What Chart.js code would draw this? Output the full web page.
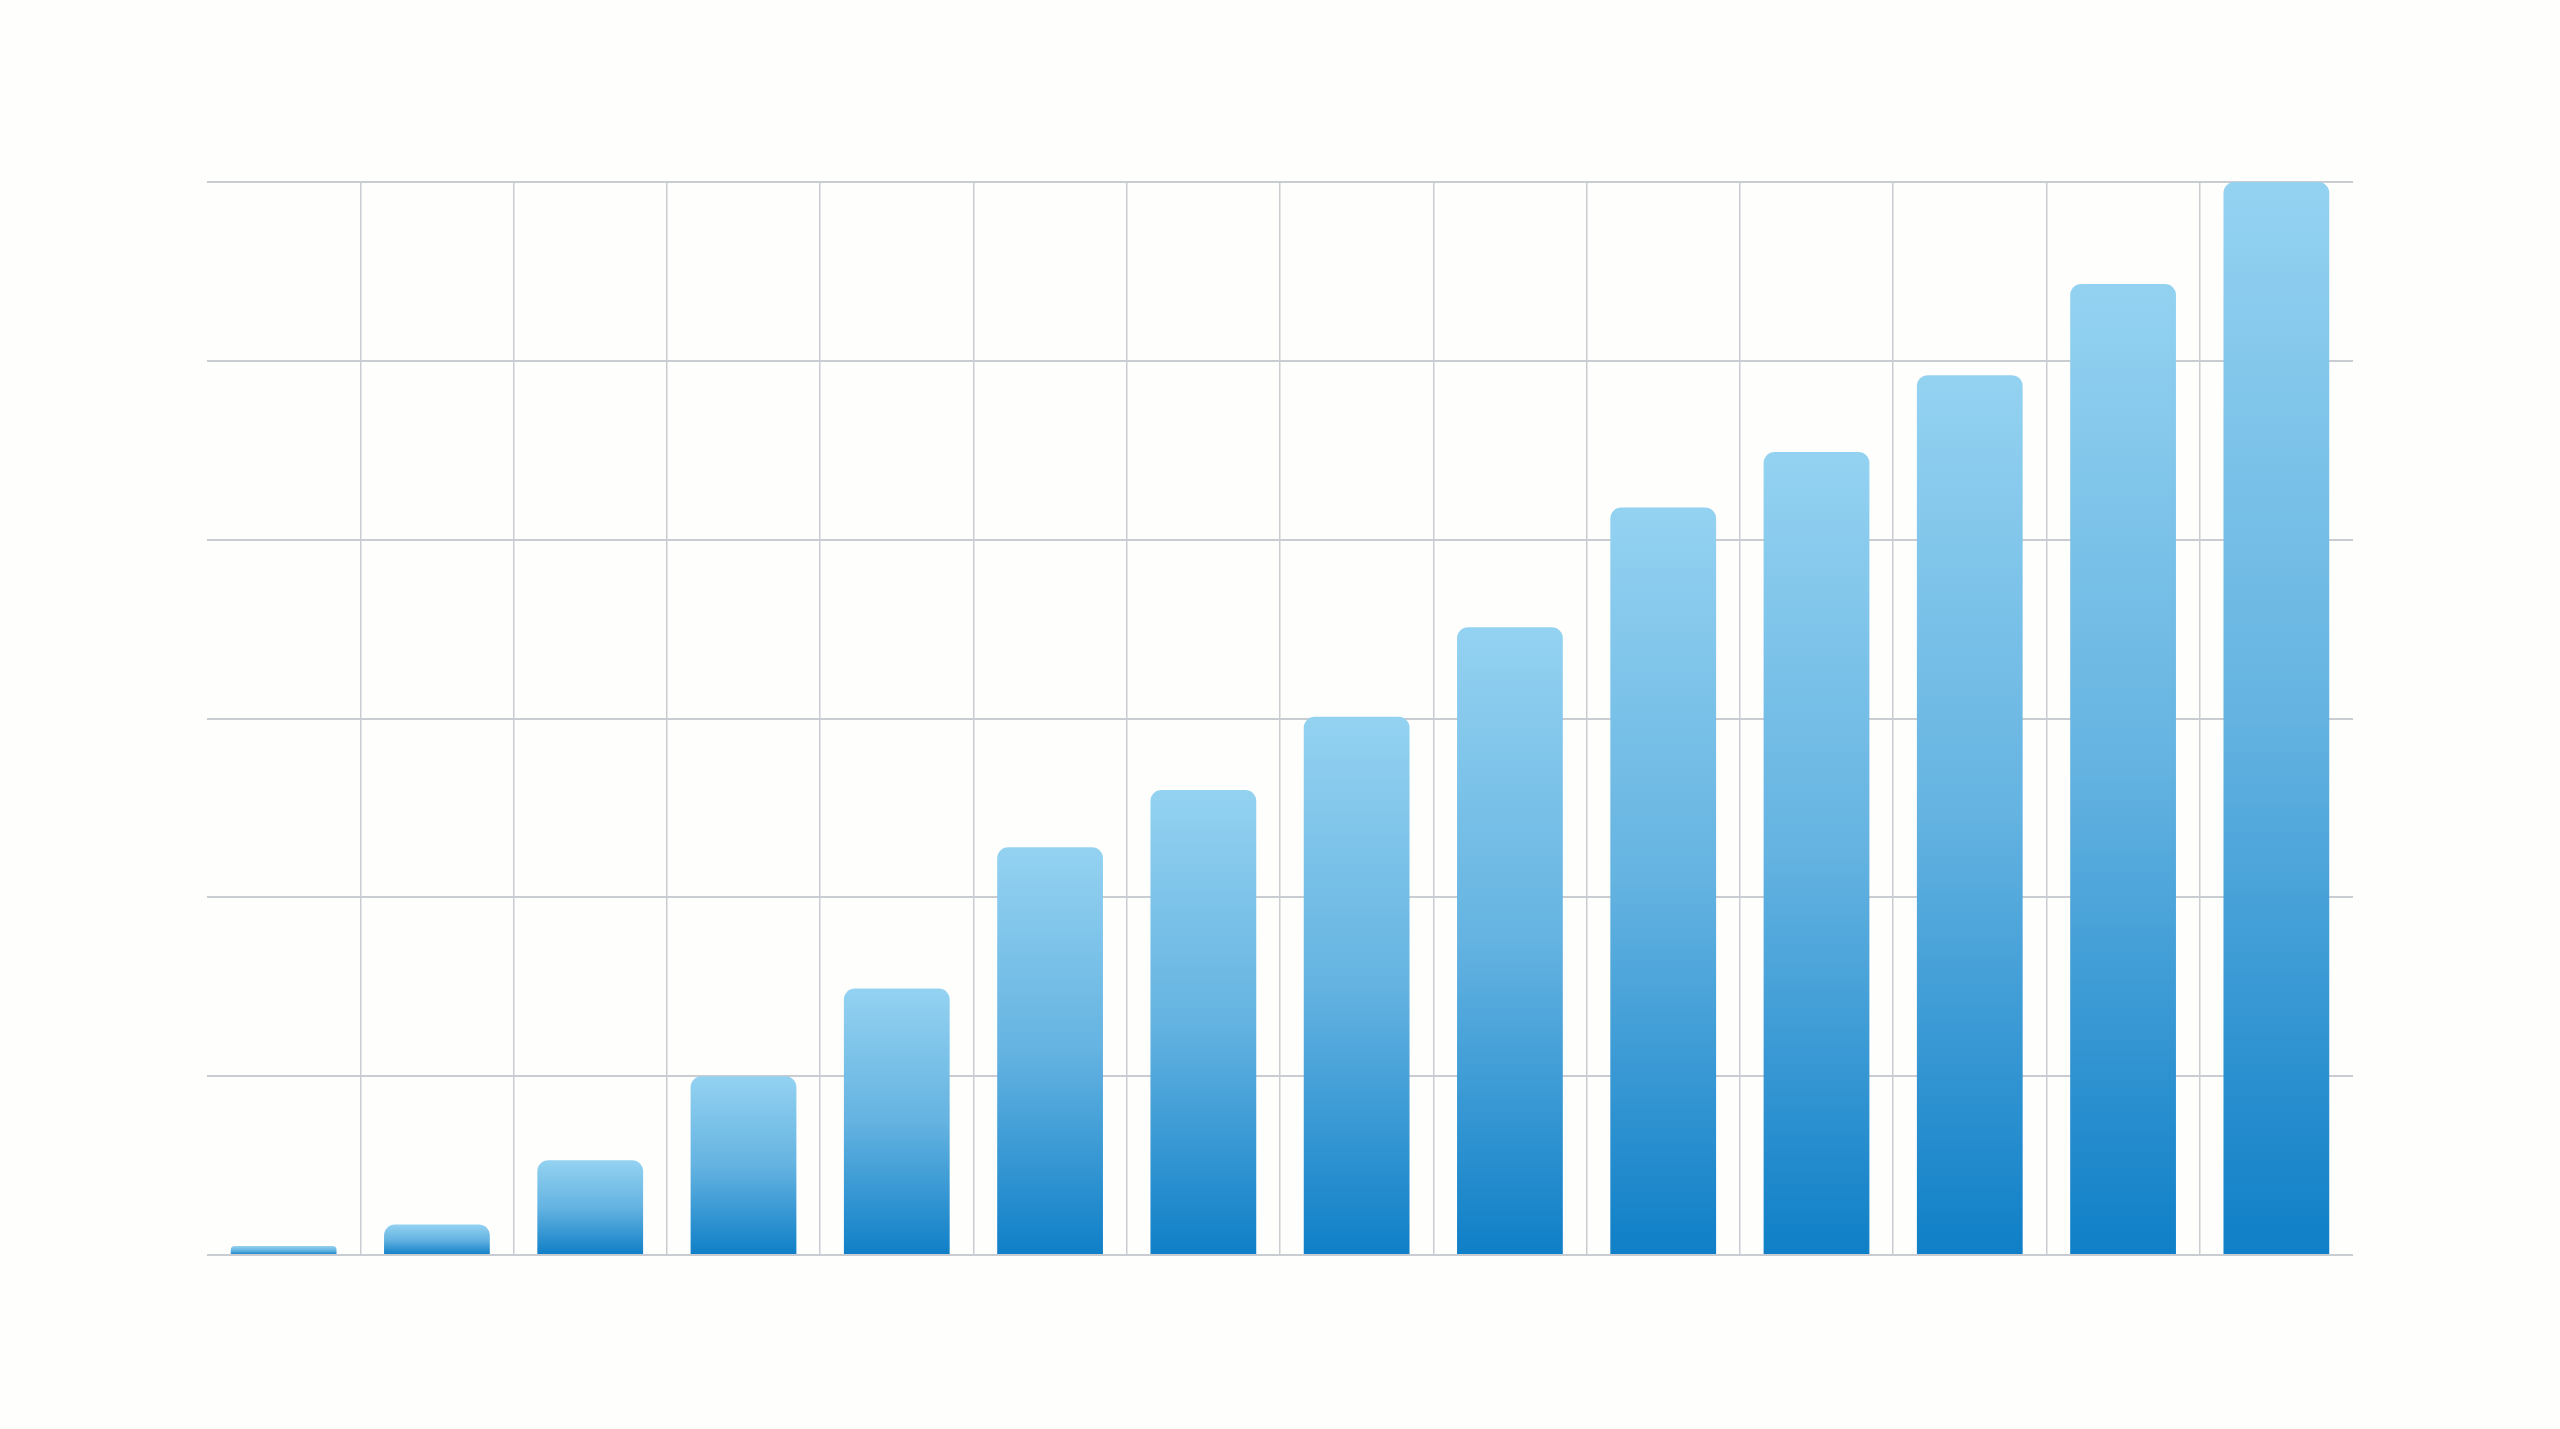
<!DOCTYPE html>
<html>
<head>
<meta charset="utf-8">
<script src="https://cdn.jsdelivr.net/npm/chart.js@4/dist/chart.umd.min.js"></script>
<style>
    html, body { margin: 0; padding: 0; background: #fefefd; }
    #wrap { width: 2560px; height: 1429px; }
</style>
</head>
<body>
<div id="wrap"><canvas id="myChart"></canvas></div>
<script>
// categories have no visible labels in the picture
var categories = ["1", "2", "3", "4", "5", "6", "7", "8", "9", "10", "11", "12", "13", "14"];
var barValues = [0.05, 0.17, 0.53, 1.0, 1.49, 2.28, 2.6, 3.01, 3.51, 4.18, 4.49, 4.92, 5.43, 6.0];
var yTicks = [0, 1, 2, 3, 4, 5, 6];

const GRID_COLOR = '#c9ccd0';
const TOP_BLUE = '#94d2f1';
const MID_BLUE = '#64b3e1';
const BOTTOM_BLUE = '#0f7fc7';

// each bar gets its own vertical gradient, light at the top, dark at the base
function barGradient(context) {
    var chart = context.chart;
    var yScale = chart.scales.y;
    if (!yScale || context.raw === undefined) return MID_BLUE;
    var top = yScale.getPixelForValue(context.raw);
    var bottom = yScale.getPixelForValue(0);
    if (!isFinite(top) || !isFinite(bottom) || bottom - top < 1) return MID_BLUE;
    var g = chart.ctx.createLinearGradient(0, top, 0, bottom);
    g.addColorStop(0, TOP_BLUE);
    g.addColorStop(0.5, MID_BLUE);
    g.addColorStop(1, BOTTOM_BLUE);
    return g;
}

var config = {
    type: 'bar',
    data: {
        labels: categories,
        datasets: [{
            data: barValues,
            backgroundColor: barGradient,
            borderWidth: 0,
            borderRadius: 11,
            borderSkipped: 'start',
            barPercentage: 0.69,
            categoryPercentage: 1.0
        }]
    },
    options: {
        responsive: true,
        maintainAspectRatio: false,
        animation: false,
        layout: {
            padding: { left: 207, right: 207, top: 182, bottom: 174 }
        },
        scales: {
            x: {
                grid: {
                    offset: true,
                    drawTicks: false,
                    lineWidth: 1.5,
                    // no vertical line on the left and right edges
                    color: function (c) {
                        if (c.type !== 'tick' || c.index === 0) return 'rgba(0,0,0,0)';
                        return GRID_COLOR;
                    }
                },
                border: { display: false },
                ticks: { display: false }
            },
            y: {
                min: 0,
                max: 6,
                afterBuildTicks: function (axis) {
                    axis.ticks = yTicks.map(function (v) { return { value: v }; });
                },
                grid: {
                    drawTicks: false,
                    lineWidth: 2,
                    color: GRID_COLOR
                },
                border: { display: false },
                ticks: { display: false }
            }
        },
        plugins: {
            legend: { display: false },
            title: { display: false },
            tooltip: { enabled: false }
        }
    }
};

new Chart(document.getElementById('myChart'), config);
</script>
</body>
</html>
